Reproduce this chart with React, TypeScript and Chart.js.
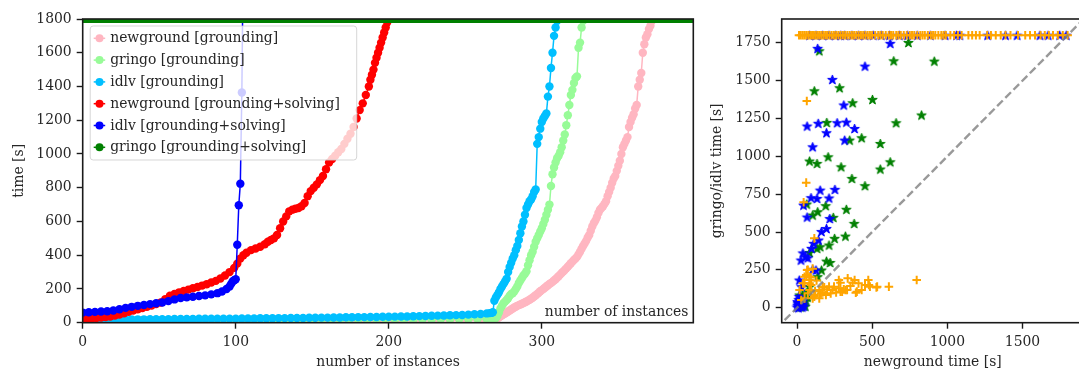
import React, { useEffect, useRef } from 'react';
import { Chart, registerables } from 'chart.js';

Chart.register(...registerables);

const FONT_FAMILY = "'DejaVu Serif', 'Liberation Serif', serif";
const FONT_SIZE = 13.9;
const TEXT_COLOR = '#262626';
const SPINE_COLOR = '#1a1a1a';
const TIMEOUT = 1800;

// ---------------- left: cactus plot ----------------
const cactusXTicks = [0, 100, 200, 300];
const cactusYTicks = [0, 200, 400, 600, 800, 1000, 1200, 1400, 1600, 1800];
const cactusXTitle = 'number of instances';
const cactusYTitle = 'time [s]';
const cactusInnerNote = 'number of instances';

const seriesNames = [
  'newground [grounding]',
  'gringo [grounding]',
  'idlv [grounding]',
  'newground [grounding+solving]',
  'idlv [grounding+solving]',
  'gringo [grounding+solving]',
];
const seriesColors = ['#FFB6C1', '#98FB98', '#00BFFF', '#FF0000', '#0000FF', '#008000'];

// newground [grounding]
const ngGroundX = [
  0, 10, 20, 30, 40, 50, 60, 70, 80, 90, 100, 110, 120, 130, 140, 150, 160, 170, 180, 190, 200, 210, 220, 230, 240, 250, 260, 266,
  270, 271, 272, 273, 274, 275, 276, 277, 278, 279,
  280, 281, 282, 283, 284, 285, 286, 287, 288, 289,
  290, 291, 292, 293, 294, 295, 296, 297, 298, 299,
  300, 301, 302, 303, 304, 305, 306, 307, 308, 309,
  310, 311, 312, 313, 314, 315, 316, 317, 318, 319,
  320, 321, 322, 323, 324, 325, 326, 327, 328, 329,
  330, 331, 332, 333, 334, 335, 336, 337, 338, 339,
  340, 341, 342, 343, 344, 345, 346, 347, 348, 349,
  350, 351, 352, 353, 354, 355, 356, 357, 358, 359,
  360, 361, 362, 363, 364, 365, 366, 367, 368, 369,
  370, 371, 372, 373,
];
const ngGroundY = [
  2, 2, 3, 3, 3, 4, 4, 4, 5, 5, 5, 6, 6, 6, 7, 7, 7, 8, 8, 8, 9, 9, 10, 10, 11, 11, 12, 13,
  15, 25, 32, 38, 44, 50, 55, 60, 66, 72,
  78, 84, 90, 95, 100, 104, 108, 112, 116, 121,
  126, 131, 136, 142, 148, 155, 163, 170, 178, 186,
  193, 200, 207, 215, 222, 229, 235, 242, 250, 258,
  266, 275, 285, 295, 303, 312, 322, 332, 342, 352,
  362, 372, 380, 390, 405, 420, 438, 455, 470, 485,
  505, 520, 545, 570, 590, 605, 625, 650, 670, 680,
  690, 705, 720, 750, 775, 800, 830, 855, 870, 900,
  930, 960, 1000, 1040, 1060, 1080, 1100, 1160, 1190, 1215,
  1235, 1270, 1290, 1400, 1440, 1480, 1600, 1650, 1690, 1710,
  1740, 1760, 1790, 1850,
];

// gringo [grounding]
const gringoGroundX = [
  0, 6, 12, 18, 24, 30, 36, 42, 48, 54, 60, 66, 72, 78, 84, 90, 96, 102, 108, 114, 120, 126, 132, 138, 144,
  150, 156, 162, 168, 174, 180, 186, 192, 198, 204, 210, 216, 222, 228, 234, 240, 246, 252, 258, 264, 268,
  270, 271, 272, 273, 274, 275, 276, 277, 278, 279,
  280, 281, 282, 283, 284, 285, 286, 287, 288, 289,
  290, 291, 292, 293, 294, 295, 296, 297, 298, 299,
  300, 301, 302, 303, 304, 305, 306, 307, 308, 309,
  310, 311, 312, 313, 314, 315, 316, 317, 318, 319,
  320, 321, 322, 323, 324, 325, 326, 327, 328,
];
const gringoGroundY = [
  6, 6, 7, 7, 7, 8, 8, 8, 9, 9, 9, 10, 10, 10, 11, 11, 11, 12, 12, 12, 13, 13, 13, 14, 14,
  14, 15, 15, 15, 16, 16, 16, 17, 17, 17, 18, 18, 19, 19, 20, 20, 21, 21, 22, 22, 24,
  28, 40, 60, 85, 100, 115, 125, 135, 145, 160,
  170, 175, 185, 200, 215, 235, 250, 265, 280, 290,
  305, 340, 370, 400, 420, 450, 480, 500, 520, 540,
  560, 585, 610, 640, 670, 700, 810, 880, 920, 950,
  975, 990, 1010, 1040, 1080, 1115, 1170, 1230, 1290, 1350,
  1380, 1420, 1450, 1460, 1630, 1660, 1750, 1790, 1850,
];

// idlv [grounding]
const idlvGroundX = [
  0, 4, 8, 12, 16, 20, 24, 28, 32, 36, 40, 44, 48, 52, 56, 60, 64, 68, 72, 76, 80, 84, 88, 92, 96, 100,
  104, 108, 112, 116, 120, 124, 128, 132, 136, 140, 144, 148, 152, 156, 160, 164, 168, 172, 176, 180, 184,
  188, 192, 196, 200, 204, 208, 212, 216, 220, 224, 228, 232, 236, 240, 244, 248, 252, 256, 260, 264,
  266, 267, 268,
  269, 270, 271, 272, 273, 274, 275, 276, 277, 278,
  279, 280, 281, 282, 283, 284, 285, 286, 287, 288,
  289, 290, 291, 292, 293, 294, 295, 296, 297, 298,
  299, 300, 301, 302, 303, 304, 305, 306, 307, 308,
  309, 310, 311,
];
const idlvGroundY = [
  18, 18, 18, 19, 19, 19, 19, 20, 20, 20, 20, 21, 21, 21, 21, 22, 22, 22, 22, 23, 23, 23, 23, 24, 24, 24,
  25, 25, 25, 26, 26, 26, 27, 27, 28, 28, 28, 29, 29, 30, 30, 31, 31, 32, 32, 33, 33,
  34, 34, 35, 35, 36, 37, 37, 38, 39, 40, 41, 42, 43, 44, 45, 46, 48, 50, 52, 55,
  57, 58, 62,
  130, 150, 165, 180, 200, 215, 230, 245, 260, 300,
  330, 355, 380, 400, 430, 455, 490, 530, 570, 600,
  640, 680, 700, 720, 730, 750, 775, 790, 1060, 1100,
  1150, 1190, 1210, 1225, 1240, 1340, 1400, 1510, 1600, 1700,
  1750, 1790, 1850,
];

// newground [grounding+solving]
const ngSolveX = [
  0, 3, 6, 9, 12, 15, 18, 21, 24, 27, 30, 33, 36, 39, 42, 45, 48, 51, 54, 57, 60, 63, 66, 69, 72, 75, 78, 81,
  84, 87, 90, 93, 96, 99, 101, 103, 105, 107, 110, 113, 116, 119,
  121, 123, 125, 127, 129, 131, 133, 135, 137, 139, 141, 143, 145, 147, 149, 151, 153, 155, 157, 159,
  161, 163, 165, 167, 169, 171, 173, 175, 177, 179, 181, 183, 185, 187,
  188, 189, 190, 191, 192, 193, 194, 195, 196, 197, 198, 199, 200, 201,
];
const ngSolveY = [
  22, 24, 26, 28, 31, 34, 37, 42, 48, 56, 65, 72, 80, 87, 94, 102, 110, 120, 140, 160, 170, 180, 188, 196, 204, 212, 220, 228,
  238, 248, 262, 280, 300, 325, 350, 380, 400, 415, 430, 440, 450, 465,
  480, 490, 500, 520, 560, 600, 630, 660, 670, 675, 680, 690, 710, 750, 780, 800, 820, 845, 870, 910,
  950, 970, 990, 1010, 1030, 1060, 1090, 1120, 1160, 1210, 1260, 1300, 1350, 1400,
  1440, 1470, 1500, 1540, 1570, 1600, 1630, 1660, 1690, 1720, 1750, 1780, 1800, 1830,
];

// idlv [grounding+solving]
const idlvSolveX = [
  0, 4, 8, 12, 16, 20, 24, 28, 32, 36, 40, 44, 48, 52, 56, 60, 64, 68, 72, 76, 80, 84, 88,
  91, 94, 96, 97, 98, 99, 100, 101, 102, 103, 104, 105,
];
const idlvSolveY = [
  60, 62, 64, 66, 68, 72, 80, 88, 94, 100, 105, 110, 115, 120, 128, 138, 146, 150, 154, 158, 162, 168, 175,
  185, 200, 215, 230, 245, 252, 258, 462, 696, 824, 1364, 2300,
];

// gringo [grounding+solving]: every instance at the timeout
const gringoSolveX = [0, 399];

// ---------------- right: scatter ----------------
const scatterXTicks = [0, 500, 1000, 1500];
const scatterYTicks = [0, 250, 500, 750, 1000, 1250, 1500, 1750];
const scatterXTitle = 'newground time [s]';
const scatterYTitle = 'gringo/idlv time [s]';

// idlv vs newground (blue stars)
const idlvVsNgX = [
  137, 620, 452, 235, 311, 67, 141, 267, 328, 383, 196, 317, 104, 154, 252, 93, 133, 213, 43, 67, 218, 196,
  162, 143, 111, 96, 39, 26, 57, 72, 104, 126, 15, 30,
  0, 5, 10, 15, 20, 25, 30, 35, 40, 12, 3, 22, 8, 28, 45, 18, 33, 6, 38, 14,
  83, 126, 170, 213, 257, 290, 317, 365, 409, 452, 507, 560, 615, 680, 735, 800, 887, 985, 1061, 1083,
  1268, 1387, 1464, 1616, 1670, 1747, 1791,
];
const idlvVsNgY = [
  1713, 1746, 1596, 1508, 1339, 1200, 1218, 1222, 1226, 1184, 1156, 1107, 1063, 777, 782, 727, 722, 725, 678, 599, 589, 523,
  503, 447, 425, 392, 362, 315, 337, 330, 253, 249, 183, 139,
  5, 15, 0, 30, 10, 45, 20, 5, 25, 55, 40, 60, 35, 12, 10, 50, 40, 25, 45, 75,
  1800, 1800, 1800, 1800, 1800, 1800, 1800, 1800, 1800, 1800, 1800, 1800, 1800, 1800, 1800, 1800, 1800, 1800, 1800, 1800,
  1800, 1800, 1800, 1800, 1800, 1800, 1800,
];

// gringo vs newground (green stars)
const gringoVsNgX = [
  148, 741, 643, 913, 115, 283, 370, 502, 828, 198, 659, 350, 430, 554, 207, 83, 133, 293, 620, 554, 365, 452,
  65, 104, 137, 191, 328, 241, 380, 322, 250, 213, 154, 133, 83, 196, 220, 163, 137, 83, 61, 17,
  30, 45, 55, 20, 10, 40, 60, 35, 70, 25,
];
const gringoVsNgY = [
  1697, 1752, 1631, 1629, 1433, 1453, 1354, 1376, 1273, 1224, 1222, 1107, 1123, 1085, 997, 969, 953, 931, 964, 916, 854, 806,
  685, 612, 634, 674, 650, 597, 557, 473, 458, 414, 403, 392, 365, 308, 299, 249, 205, 139, 99, 84,
  40, 20, 10, 15, 30, 60, 45, 80, 70, 5,
];

// grounding only comparison (orange plus)
const groundVsNgX = [
  65, 61, 44, 115, 104, 72, 83, 50, 61, 83, 39, 94, 50, 83, 289, 337, 370, 409, 474, 485, 528, 611, 796,
  398, 333, 322, 278, 246, 213, 181, 148, 224, 192, 159, 115, 104, 148, 72, 50, 28, 300, 355, 383, 452,
  430, 391, 278, 235, 170, 289, 311, 115, 83, 17, 478, 533, 67, 120, 200, 260, 170, 92, 130,
];
const groundVsNgY = [
  1365, 826, 697, 458, 258, 250, 205, 205, 216, 183, 161, 150, 161, 161, 165, 194, 165, 161, 183, 139, 134, 139, 183,
  106, 117, 117, 128, 139, 139, 134, 117, 95, 84, 95, 84, 62, 62, 95, 62, 51, 106, 143, 183, 150,
  117, 99, 183, 117, 139, 106, 121, 73, 117, 117, 150, 139, 249, 110, 120, 100, 100, 200, 180,
];
const groundTimeoutX = [
  13, 25, 38, 50, 62, 75, 88, 100, 112, 125, 138, 150, 162, 175, 188, 200, 215, 230, 245, 260, 275, 290, 305,
  320, 335, 350, 365, 380, 395, 410, 425, 440, 455, 470, 485, 500, 520, 540, 555, 570, 590, 610, 625, 640,
  660, 675, 690, 710, 730, 750, 765, 780, 800, 820, 835, 850, 870, 890, 905, 920, 940, 960, 975, 990,
  1020, 1045, 1070, 1095, 1140, 1165, 1190, 1215, 1265, 1290, 1322, 1355, 1387, 1420, 1470, 1518, 1550,
  1583, 1620, 1648, 1675, 1703, 1735, 1768, 1800,
];
const diagonal = [-300, 2200];

const zip = (xs: number[], ys: number[]) => xs.map((x, i) => ({ x, y: ys[i] }));

const font = { family: FONT_FAMILY, size: FONT_SIZE };

function makeStar(color: string, r: number) {
  const size = 13;
  const c = document.createElement('canvas');
  c.width = size;
  c.height = size;
  const ctx = c.getContext('2d')!;
  ctx.translate(size / 2, size / 2 + 0.5);
  ctx.beginPath();
  for (let i = 0; i < 10; i++) {
    const rad = i % 2 === 0 ? r : r * 0.4;
    const a = -Math.PI / 2 + (i * Math.PI) / 5;
    ctx.lineTo(rad * Math.cos(a), rad * Math.sin(a));
  }
  ctx.closePath();
  ctx.fillStyle = color;
  ctx.fill();
  ctx.strokeStyle = color;
  ctx.lineWidth = 1;
  ctx.lineJoin = 'round';
  ctx.stroke();
  return c;
}

const framePlugin = {
  id: 'frame',
  afterDatasetsDraw(chart: any) {
    const { ctx, chartArea: a } = chart;
    ctx.save();
    ctx.strokeStyle = SPINE_COLOR;
    ctx.lineWidth = 1.6;
    ctx.strokeRect(a.left, a.top, a.right - a.left, a.bottom - a.top);
    ctx.restore();
  },
};

function roundRect(ctx: CanvasRenderingContext2D, x: number, y: number, w: number, h: number, r: number) {
  ctx.beginPath();
  ctx.moveTo(x + r, y);
  ctx.lineTo(x + w - r, y);
  ctx.arcTo(x + w, y, x + w, y + r, r);
  ctx.lineTo(x + w, y + h - r);
  ctx.arcTo(x + w, y + h, x + w - r, y + h, r);
  ctx.lineTo(x + r, y + h);
  ctx.arcTo(x, y + h, x, y + h - r, r);
  ctx.lineTo(x, y + r);
  ctx.arcTo(x, y, x + r, y, r);
  ctx.closePath();
}

const cactusLegendPlugin = {
  id: 'cactusLegend',
  afterDatasetsDraw(chart: any) {
    const { ctx, chartArea: a } = chart;
    ctx.save();
    const bx = a.left + 7.5;
    const by = a.top + 7;
    roundRect(ctx, bx, by, 266.5, 134, 3);
    ctx.fillStyle = 'rgba(255,255,255,0.8)';
    ctx.fill();
    ctx.strokeStyle = 'rgba(204,204,204,0.8)';
    ctx.lineWidth = 1;
    ctx.stroke();
    ctx.font = `${FONT_SIZE}px ${FONT_FAMILY}`;
    ctx.textBaseline = 'middle';
    ctx.textAlign = 'left';
    seriesNames.forEach((name, i) => {
      const y = by + 12.3 + i * 21.8;
      const col = seriesColors[i];
      ctx.strokeStyle = col;
      ctx.lineWidth = 1.5;
      ctx.beginPath();
      ctx.moveTo(bx + 3.5, y);
      ctx.lineTo(bx + 15, y);
      ctx.stroke();
      ctx.fillStyle = col;
      ctx.beginPath();
      ctx.arc(bx + 9.3, y, 4, 0, Math.PI * 2);
      ctx.fill();
      ctx.fillStyle = TEXT_COLOR;
      ctx.fillText(name, bx + 20, y + 0.5);
    });
    // inner axis note
    ctx.textAlign = 'right';
    ctx.fillStyle = TEXT_COLOR;
    ctx.fillText(cactusInnerNote, a.right - 5, a.bottom - 10.2);
    ctx.restore();
  },
};

function axisCommon(ticks: number[], title: string, titlePad: any) {
  return {
    type: 'linear' as const,
    afterBuildTicks: (s: any) => {
      s.ticks = ticks.map((v) => ({ value: v }));
    },
    ticks: {
      font,
      color: TEXT_COLOR,
      padding: 5,
      autoSkip: false,
      maxRotation: 0,
      callback: (v: any) => String(v),
    },
    grid: {
      display: true,
      drawOnChartArea: false,
      drawTicks: true,
      tickLength: 6,
      tickWidth: 1.4,
      tickColor: SPINE_COLOR,
      color: SPINE_COLOR,
    },
    border: { display: false },
    title: { display: true, text: title, font, color: TEXT_COLOR, padding: titlePad },
  };
}

function lineSet(i: number, xs: number[], ys: number[], extra: any = {}) {
  const col = seriesColors[i];
  return {
    label: seriesNames[i],
    data: zip(xs, ys),
    borderColor: col,
    backgroundColor: col,
    pointBackgroundColor: col,
    pointBorderColor: col,
    pointBorderWidth: 0,
    pointRadius: 4.2,
    borderWidth: 1.5,
    tension: 0,
    clip: 0,
    ...extra,
  };
}

export default function App() {
  const leftRef = useRef<HTMLCanvasElement>(null);
  const rightRef = useRef<HTMLCanvasElement>(null);

  useEffect(() => {
    const left = new Chart(leftRef.current!, {
      type: 'line',
      data: {
        datasets: [
          lineSet(5, gringoSolveX, gringoSolveX.map(() => TIMEOUT), { borderWidth: 8, pointRadius: 0 }),
          lineSet(4, idlvSolveX, idlvSolveY),
          lineSet(3, ngSolveX, ngSolveY),
          lineSet(2, idlvGroundX, idlvGroundY),
          lineSet(1, gringoGroundX, gringoGroundY),
          lineSet(0, ngGroundX, ngGroundY),
        ] as any,
      },
      options: {
        responsive: false,
        animation: false,
        events: [],
        layout: { padding: { top: 19, right: 6.7, left: 0, bottom: 0 } },
        plugins: { legend: { display: false }, tooltip: { enabled: false } },
        scales: {
          x: {
            ...axisCommon(cactusXTicks, cactusXTitle, { top: 0, bottom: 0 }),
            min: 0,
            max: 399,
            afterFit: (s: any) => {
              s.height = 48.3;
            },
          },
          y: {
            ...axisCommon(cactusYTicks, cactusYTitle, { top: 11, bottom: 0 }),
            min: 0,
            max: 1800,
            afterFit: (s: any) => {
              s.width = 82.7;
            },
          },
        } as any,
      },
      plugins: [framePlugin, cactusLegendPlugin],
    });

    const blueStar = makeStar('#0000FF', 5);
    const greenStar = makeStar('#008000', 5);
    const right = new Chart(rightRef.current!, {
      type: 'scatter',
      data: {
        datasets: [
          {
            label: 'y = x',
            data: zip(diagonal, diagonal),
            showLine: true,
            borderColor: 'rgba(128,128,128,0.8)',
            borderWidth: 2.4,
            borderDash: [8, 3.6],
            pointRadius: 0,
            clip: 0,
          },
          {
            label: 'grounding',
            data: [...zip(groundVsNgX, groundVsNgY), ...groundTimeoutX.map((x) => ({ x, y: TIMEOUT }))],
            pointStyle: 'cross',
            pointRadius: 4.3,
            pointBorderWidth: 2,
            pointBorderColor: '#FFA500',
            pointBackgroundColor: '#FFA500',
            clip: 0,
          },
          {
            label: 'idlv',
            data: zip(idlvVsNgX, idlvVsNgY),
            pointStyle: blueStar,
            pointRadius: 5,
            clip: 0,
          },
          {
            label: 'gringo',
            data: zip(gringoVsNgX, gringoVsNgY),
            pointStyle: greenStar,
            pointRadius: 5,
            clip: 0,
          },
        ] as any,
      },
      options: {
        responsive: false,
        animation: false,
        events: [],
        layout: { padding: { top: 19, right: 0, left: 0, bottom: 0 } },
        plugins: { legend: { display: false }, tooltip: { enabled: false } },
        scales: {
          x: {
            ...axisCommon(scatterXTicks, scatterXTitle, { top: 0, bottom: 0 }),
            min: -102,
            max: 1907,
            afterFit: (s: any) => {
              s.height = 48.3;
            },
          },
          y: {
            ...axisCommon(scatterYTicks, scatterYTitle, { top: 9.5, bottom: 0 }),
            min: -99,
            max: 1907,
            afterFit: (s: any) => {
              s.width = 81.7;
            },
          },
        } as any,
      },
      plugins: [framePlugin],
    });

    return () => {
      left.destroy();
      right.destroy();
    };
  }, []);

  return (
    <div
      style={{
        position: 'fixed',
        left: 0,
        top: 0,
        width: 1079,
        height: 371,
        overflow: 'hidden',
        background: '#ffffff',
      }}
    >
      <canvas ref={leftRef} width={700} height={371} style={{ position: 'absolute', left: 0, top: 0 }} />
      <canvas ref={rightRef} width={390} height={371} style={{ position: 'absolute', left: 700, top: 0 }} />
    </div>
  );
}
